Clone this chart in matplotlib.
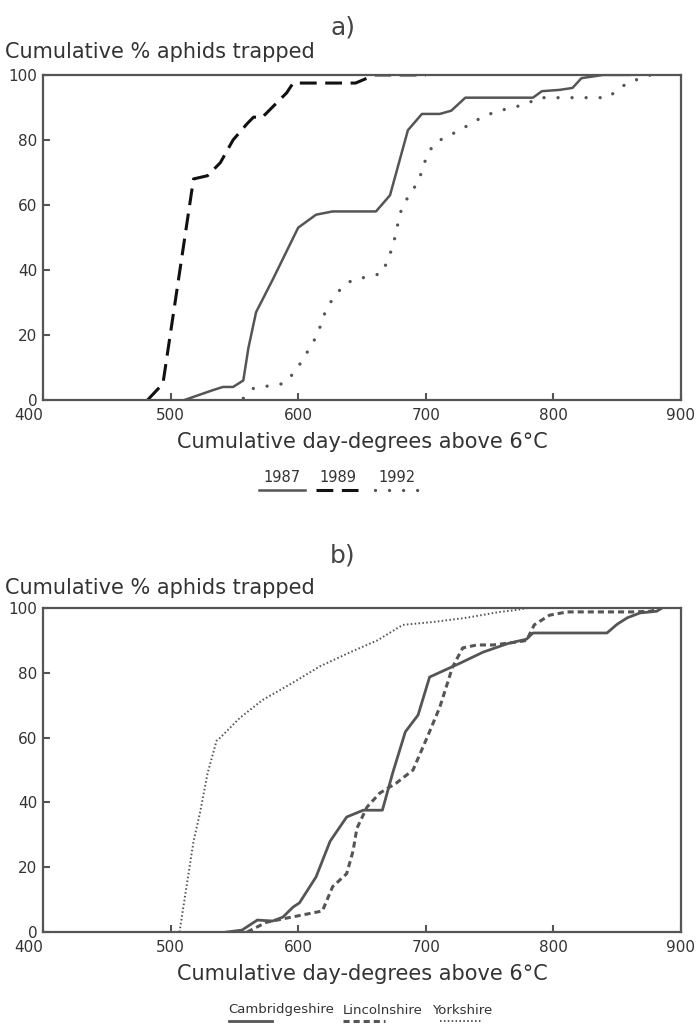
import matplotlib.pyplot as plt
from matplotlib.lines import Line2D

# panel a) years
a_1987_x = [511, 533, 541, 549, 557, 561, 567, 580, 600, 614, 627, 661, 672, 686, 697, 711, 720, 731,
            784, 791, 805, 815, 822, 839, 860]
a_1987_y = [0, 3, 4, 4, 6, 16, 27, 37, 53, 57, 58, 58, 63, 83, 88, 88, 89, 93,
            93, 95, 95.4, 96, 99, 100, 100]

a_1989_x = [482, 494, 518, 529, 539, 549, 560, 565, 572, 591, 596, 645, 660, 700]
a_1989_y = [0, 5, 68, 69, 73, 80, 85, 87, 87, 94.5, 97.5, 97.5, 100, 100]

a_1992_x = [557, 565, 588, 596, 603, 609, 615, 622, 627, 635, 643, 656, 666, 670, 674, 677, 679, 682,
            689, 695, 698, 702, 707, 716, 727, 737, 748, 758, 768, 779, 788, 843, 850, 860, 870, 876]
a_1992_y = [0.5, 3.6, 5, 8, 12, 16, 20, 28, 31, 35, 37, 38, 39, 43, 47, 52, 56, 60,
            64, 68, 72, 76, 79, 81, 83, 85.5, 87.7, 89, 90, 91, 93, 93, 95.4, 98, 99, 100]

# panel b) counties
cam_x = [544, 556, 568, 580, 588, 596, 601, 614, 625, 638, 651, 666, 674, 684, 694, 703, 727, 745,
         764, 779, 784, 842, 850, 858, 868, 881, 885]
cam_y = [0, 0.6, 3.7, 3.4, 4.6, 7.7, 9, 17, 28, 35.5, 37.6, 37.6, 49, 61.8, 67, 78.7, 83, 86.4,
         89, 90.4, 92.3, 92.3, 95, 97, 98.5, 99, 100]

lin_x = [560, 575, 591, 619, 627, 638, 643, 646, 654, 664, 677, 690, 701, 711, 721, 729, 740, 753,
         771, 779, 785, 797, 811, 862, 876, 885]
lin_y = [0, 3, 4.3, 6.5, 14, 18, 25, 32, 38.6, 42.9, 46, 50, 60, 69.4, 81.8, 87.7, 88.6, 88.6,
         89.5, 90, 94.8, 97.8, 98.8, 98.8, 99, 100]

york_x = [507, 518, 523, 529, 536, 539, 554, 572, 596, 617, 641, 662, 682, 706, 732, 758, 771, 780]
york_y = [0, 28, 36.7, 49, 59, 60, 66, 71.6, 77, 82, 86.4, 90, 94.8, 95.7, 97, 98.8, 99.4, 100]

x_ticks = [400, 500, 600, 700, 800, 900]
y_ticks = [0, 20, 40, 60, 80, 100]

GREY = '#555555'
TXT = '#333333'

fig = plt.figure(figsize=(7, 10.25), dpi=100)

ax_a = fig.add_axes([0.0614, 0.6098, 0.9114, 0.3171])
ax_b = fig.add_axes([0.0614, 0.0907, 0.9114, 0.3161])

style_a = {
    '1987': dict(color=GREY, lw=1.8, ls='-'),
    '1989': dict(color='#111111', lw=2.2, ls=(0, (5.5, 2.8))),
    '1992': dict(color=GREY, lw=2.4, ls=(0, (0.01, 4.2)), dash_capstyle='round'),
}
style_b = {
    'Cambridgeshire': dict(color=GREY, lw=2.0, ls='-'),
    'Lincolnshire': dict(color=GREY, lw=2.2, ls=(0, (2.0, 1.3))),
    'Yorkshire': dict(color=GREY, lw=1.4, ls=(0, (0.8, 1.2))),
}

ax_a.plot(a_1987_x, a_1987_y, **style_a['1987'])
ax_a.plot(a_1989_x, a_1989_y, **style_a['1989'])
ax_a.plot(a_1992_x, a_1992_y, **style_a['1992'])

ax_b.plot(cam_x, cam_y, **style_b['Cambridgeshire'])
ax_b.plot(lin_x, lin_y, **style_b['Lincolnshire'])
ax_b.plot(york_x, york_y, **style_b['Yorkshire'])

for ax in (ax_a, ax_b):
    ax.set_xlim(400, 900)
    ax.set_ylim(0, 100)
    ax.set_xticks(x_ticks)
    ax.set_yticks(y_ticks)
    for sp in ax.spines.values():
        sp.set_color(GREY)
        sp.set_linewidth(1.6)
    ax.tick_params(direction='in', length=5, width=1.5, color=GREY,
                   labelsize=11, labelcolor=TXT, pad=6)
    ax.tick_params(axis='y', pad=4)
    ax.set_xlabel('Cumulative day-degrees above 6°C', fontsize=15, color=TXT, labelpad=6)
    labs = ax.get_xticklabels()
    labs[0].set_horizontalalignment('right')

fig.text(343 / 700, 1 - 27 / 1025, 'a)', ha='center', va='center', fontsize=18, color='#444444')
fig.text(343 / 700, 1 - 556 / 1025, 'b)', ha='center', va='center', fontsize=18, color='#444444')
fig.text(5 / 700, 1 - 52 / 1025, 'Cumulative % aphids trapped', ha='left', va='center',
         fontsize=15, color=TXT)
fig.text(5 / 700, 1 - 588 / 1025, 'Cumulative % aphids trapped', ha='left', va='center',
         fontsize=15, color=TXT)

# hand-drawn style legends: label above a short line sample
def legend_row(names, styles, text_x, line_x, y_text, y_line, size):
    for name, tx, (x0, x1) in zip(names, text_x, line_x):
        fig.text(tx / 700, 1 - y_text / 1025, name, ha='center', va='center',
                 fontsize=size, color=TXT)
        fig.add_artist(Line2D([x0 / 700, x1 / 700], [1 - y_line / 1025] * 2,
                              transform=fig.transFigure, **styles[name]))

legend_row(['1987', '1989', '1992'], style_a, [282, 338, 397],
           [(259, 305), (316, 358), (375, 420)], 477, 490, 10.5)
legend_row(['Cambridgeshire', 'Lincolnshire', 'Yorkshire'], style_b, [281, 383, 462],
           [(229, 272), (343, 385), (440, 482)], 1010, 1021, 9.5)

fig.savefig('out.png', dpi=100)
